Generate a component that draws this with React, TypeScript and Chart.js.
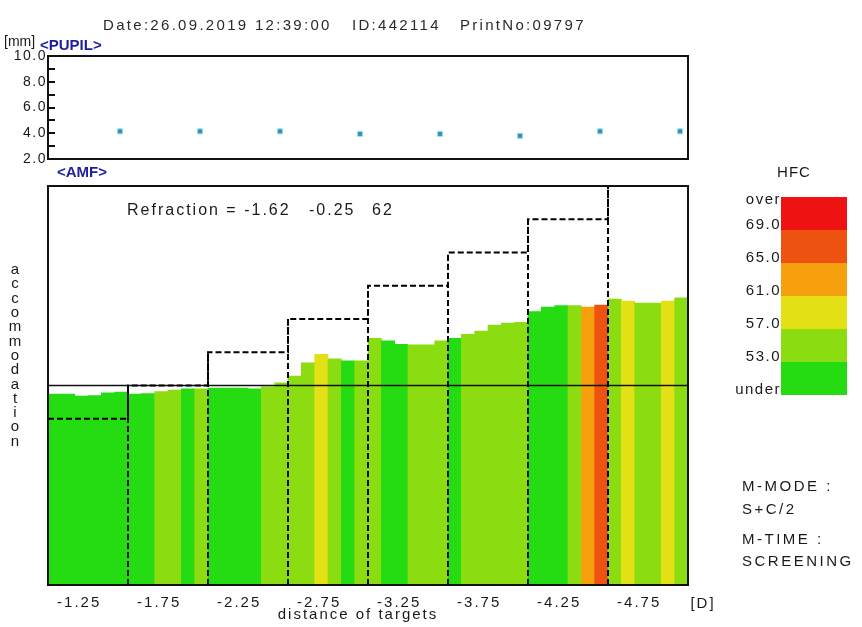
import React, { useEffect, useRef } from 'react';
import { Chart, registerables } from 'chart.js';

Chart.register(...registerables);

const FONT = "'Liberation Sans', Arial, sans-serif";
const TEXT = '#1a1a1a';
const NAVY = '#1d1d9e';

// ---------- data ----------
const headerDate = 'Date:26.09.2019 12:39:00';
const headerId = 'ID:442114';
const headerPrint = 'PrintNo:09797';

const refractionSph = '-1.62';
const refractionCyl = '-0.25';
const refractionAxis = '62';

const targetLabels = ['-1.25', '-1.75', '-2.25', '-2.75', '-3.25', '-3.75', '-4.25', '-4.75'];
const targetLevels = [2.5, 3.0, 3.5, 4.0, 4.5, 5.0, 5.5, 6.0];
const baselineLevel = 3.0;

const pupilValues = [4.15, 4.15, 4.15, 3.95, 3.95, 3.8, 4.15, 4.15];
const pupilSampleOffset = 0.9; // pupil measured near the end of each target step

const samplesPerTarget = 6;
const accommodation = [
  2.87, 2.87, 2.84, 2.85, 2.89, 2.9,
  2.87, 2.88, 2.91, 2.93, 2.95, 2.95,
  2.96, 2.96, 2.96, 2.95, 2.98, 3.04,
  3.14, 3.34, 3.47, 3.4, 3.37, 3.37,
  3.71, 3.67, 3.62, 3.61, 3.61, 3.67,
  3.71, 3.77, 3.82, 3.91, 3.94, 3.95,
  4.11, 4.18, 4.2, 4.2, 4.18, 4.21,
  4.3, 4.27, 4.24, 4.24, 4.27, 4.32,
];
const hfcValues = [
  49, 50, 51, 50, 52, 51,
  51, 52, 55, 54, 52, 54,
  50, 51, 52, 51, 54, 55,
  55, 56, 58, 56, 52, 55,
  54, 52, 51, 55, 55, 54,
  52, 54, 55, 56, 55, 54,
  51, 50, 52, 55, 63, 66,
  56, 58, 56, 55, 58, 55,
];
const hfcThresholds = [53, 57, 61, 65, 69];
const hfcColors = ['#25dc12', '#8cdc12', '#e4e016', '#f5a00c', '#ee5211', '#ef1212'];
const hfcLegendLabels = ['under', '53.0', '57.0', '61.0', '65.0', '69.0', 'over'];

const notes = ['M-MODE :', 'S+C/2', 'M-TIME :', 'SCREENING'];
const axisWord = 'accommodation';

// ---------- helpers ----------
const hfcColor = (v: number) => hfcColors[hfcThresholds.filter((t) => v >= t).length];

function setText(ctx: any, size: number, color: string, align: string, spacing = 2, weight = 'normal') {
  ctx.font = `${weight} ${size}px ${FONT}`;
  ctx.fillStyle = color;
  ctx.textAlign = align;
  ctx.textBaseline = 'middle';
  ctx.letterSpacing = `${spacing}px`;
}

const pupilPlugin = {
  id: 'pupilDeco',
  beforeDraw(chart: any) {
    chart.ctx.letterSpacing = '1.5px';
  },
  afterDraw(chart: any) {
    const { ctx, chartArea: a, scales } = chart;
    ctx.save();
    ctx.strokeStyle = '#111';
    ctx.lineWidth = 2;
    const ys = scales.y;
    for (let v = Math.ceil(ys.min) + 1; v < ys.max; v++) {
      const py = Math.round(ys.getPixelForValue(v));
      ctx.beginPath();
      ctx.moveTo(a.left, py);
      ctx.lineTo(a.left + 7, py);
      ctx.stroke();
    }
    ctx.strokeRect(a.left, a.top, a.right - a.left, a.bottom - a.top);
    ctx.restore();
  },
};

const mainPlugin = {
  id: 'mainDeco',
  beforeDraw(chart: any) {
    chart.ctx.letterSpacing = '2px';
  },
  afterDraw(chart: any) {
    const { ctx, chartArea: a } = chart;
    ctx.save();
    ctx.strokeStyle = '#111';
    ctx.lineWidth = 2;
    ctx.strokeRect(a.left, a.top, a.right - a.left, a.bottom - a.top);

    // header
    setText(ctx, 15, '#2a2a2a', 'left', 2.3);
    ctx.fillText(headerDate, 103, 26);
    ctx.fillText(headerId, 352, 26);
    ctx.fillText(headerPrint, 460, 26);

    setText(ctx, 14, TEXT, 'left', 0);
    ctx.fillText('[mm]', 4, 42);
    setText(ctx, 15, NAVY, 'left', 0, 'bold');
    ctx.fillText('<PUPIL>', 40, 46);
    ctx.fillText('<AMF>', 57, 173);

    // refraction
    setText(ctx, 16, TEXT, 'left', 2);
    ctx.fillText(`Refraction = ${refractionSph}`, 127, 211);
    ctx.fillText(refractionCyl, 309, 211);
    ctx.fillText(refractionAxis, 372, 211);

    // vertical axis word
    setText(ctx, 15, TEXT, 'center', 0);
    [...axisWord].forEach((ch, i) => ctx.fillText(ch, 15, 270 + i * 14.3));

    // x axis unit and title
    setText(ctx, 15, TEXT, 'center', 2);
    ctx.fillText('[D]', 703, 604);
    ctx.fillText('distance of targets', 358, 615);

    // HFC legend
    const lx = 781, lw = 66, ltop = 197, band = 33;
    const n = hfcColors.length;
    setText(ctx, 15, TEXT, 'center', 1);
    ctx.fillText('HFC', lx + 13, 173);
    for (let i = 0; i < n; i++) {
      ctx.fillStyle = hfcColors[n - 1 - i];
      ctx.fillRect(lx, ltop + i * band, lw, band);
    }
    setText(ctx, 15, TEXT, 'right', 1.5);
    for (let k = 0; k < hfcLegendLabels.length; k++) {
      const boundary = ltop + (n - k) * band;
      let y = boundary - 5;
      if (k === 0) y = ltop + n * band - 5;
      if (k === hfcLegendLabels.length - 1) y = ltop + 3;
      ctx.fillText(hfcLegendLabels[k], lx, y);
    }

    // notes
    setText(ctx, 15, TEXT, 'left', 2.5);
    const noteY = [487, 510, 540, 562];
    notes.forEach((t, i) => ctx.fillText(t, 742, noteY[i]));
    ctx.restore();
  },
};

export default function App() {
  const pupilRef = useRef<HTMLCanvasElement>(null);
  const mainRef = useRef<HTMLCanvasElement>(null);

  useEffect(() => {
    document.body.style.margin = '0';

    const pupil = new Chart(pupilRef.current as HTMLCanvasElement, {
      type: 'scatter',
      data: {
        datasets: [
          {
            data: pupilValues.map((y, i) => ({ x: i + pupilSampleOffset, y })),
            pointStyle: 'rect',
            pointRadius: 3.6,
            backgroundColor: '#3592b0',
            borderColor: '#a6dbea',
            borderWidth: 1,
          },
        ],
      },
      options: {
        responsive: false,
        animation: false,
        events: [],
        layout: { padding: { left: 0, right: 174, top: 56, bottom: 11 } },
        plugins: { legend: { display: false }, tooltip: { enabled: false } },
        scales: {
          x: { type: 'linear', min: 0, max: targetLabels.length, display: false },
          y: {
            type: 'linear',
            min: 2,
            max: 10,
            afterFit: (s: any) => {
              s.width = 48;
            },
            grid: { display: false, drawTicks: false },
            border: { display: false },
            ticks: {
              stepSize: 2,
              padding: 1,
              color: TEXT,
              font: { family: FONT, size: 14 },
              callback: (v: any) => Number(v).toFixed(1),
            },
          },
        },
      } as any,
      plugins: [pupilPlugin],
    });

    const boundaryData: any[] = [];
    for (let i = 1; i < targetLevels.length; i++) {
      boundaryData.push({ x: i, y: 0 }, { x: i, y: targetLevels[i] }, { x: i, y: null });
    }

    const main = new Chart(mainRef.current as HTMLCanvasElement, {
      type: 'bar',
      data: {
        datasets: [
          {
            type: 'line',
            data: [
              ...targetLevels.map((y, i) => ({ x: i, y })),
              { x: targetLevels.length, y: targetLevels[targetLevels.length - 1] },
            ],
            stepped: 'before',
            borderColor: '#000',
            borderWidth: 2,
            borderDash: [6, 3],
            pointRadius: 0,
            fill: false,
            order: 1,
          },
          {
            type: 'line',
            data: boundaryData,
            spanGaps: false,
            borderColor: '#000',
            borderWidth: 2,
            borderDash: [6, 3],
            pointRadius: 0,
            fill: false,
            order: 1,
          },
          {
            type: 'line',
            data: [
              { x: 0, y: baselineLevel },
              { x: targetLabels.length, y: baselineLevel },
            ],
            borderColor: '#111',
            borderWidth: 1.6,
            pointRadius: 0,
            fill: false,
            order: 2,
          },
          {
            type: 'bar',
            data: accommodation.map((y, k) => ({ x: (k + 0.5) / samplesPerTarget, y })),
            backgroundColor: hfcValues.map(hfcColor),
            borderWidth: 0,
            barPercentage: 1,
            categoryPercentage: 1,
            order: 3,
          },
        ],
      } as any,
      options: {
        responsive: false,
        animation: false,
        events: [],
        layout: { padding: { left: 48, right: 174, top: 186, bottom: 0 } },
        plugins: { legend: { display: false }, tooltip: { enabled: false } },
        scales: {
          x: {
            type: 'linear',
            min: 0,
            max: targetLabels.length,
            offset: false,
            grid: { display: false, drawTicks: false, offset: false },
            border: { display: false },
            afterBuildTicks: (s: any) => {
              s.ticks = targetLabels.map((_, i) => ({ value: i + 0.39 }));
            },
            afterFit: (s: any) => {
              s.height = 42;
            },
            ticks: {
              autoSkip: false,
              maxRotation: 0,
              padding: 9,
              color: TEXT,
              font: { family: FONT, size: 15 },
              callback: (_v: any, i: number) => targetLabels[i],
            },
          },
          y: { type: 'linear', min: 0, max: 6, display: false },
        },
      } as any,
      plugins: [mainPlugin],
    });

    return () => {
      pupil.destroy();
      main.destroy();
    };
  }, []);

  return (
    <div style={{ position: 'relative', width: 862, height: 627, background: '#fff', overflow: 'hidden' }}>
      <canvas ref={pupilRef} width={862} height={170} style={{ position: 'absolute', left: 0, top: 0 }} />
      <canvas ref={mainRef} width={862} height={627} style={{ position: 'absolute', left: 0, top: 0 }} />
    </div>
  );
}
